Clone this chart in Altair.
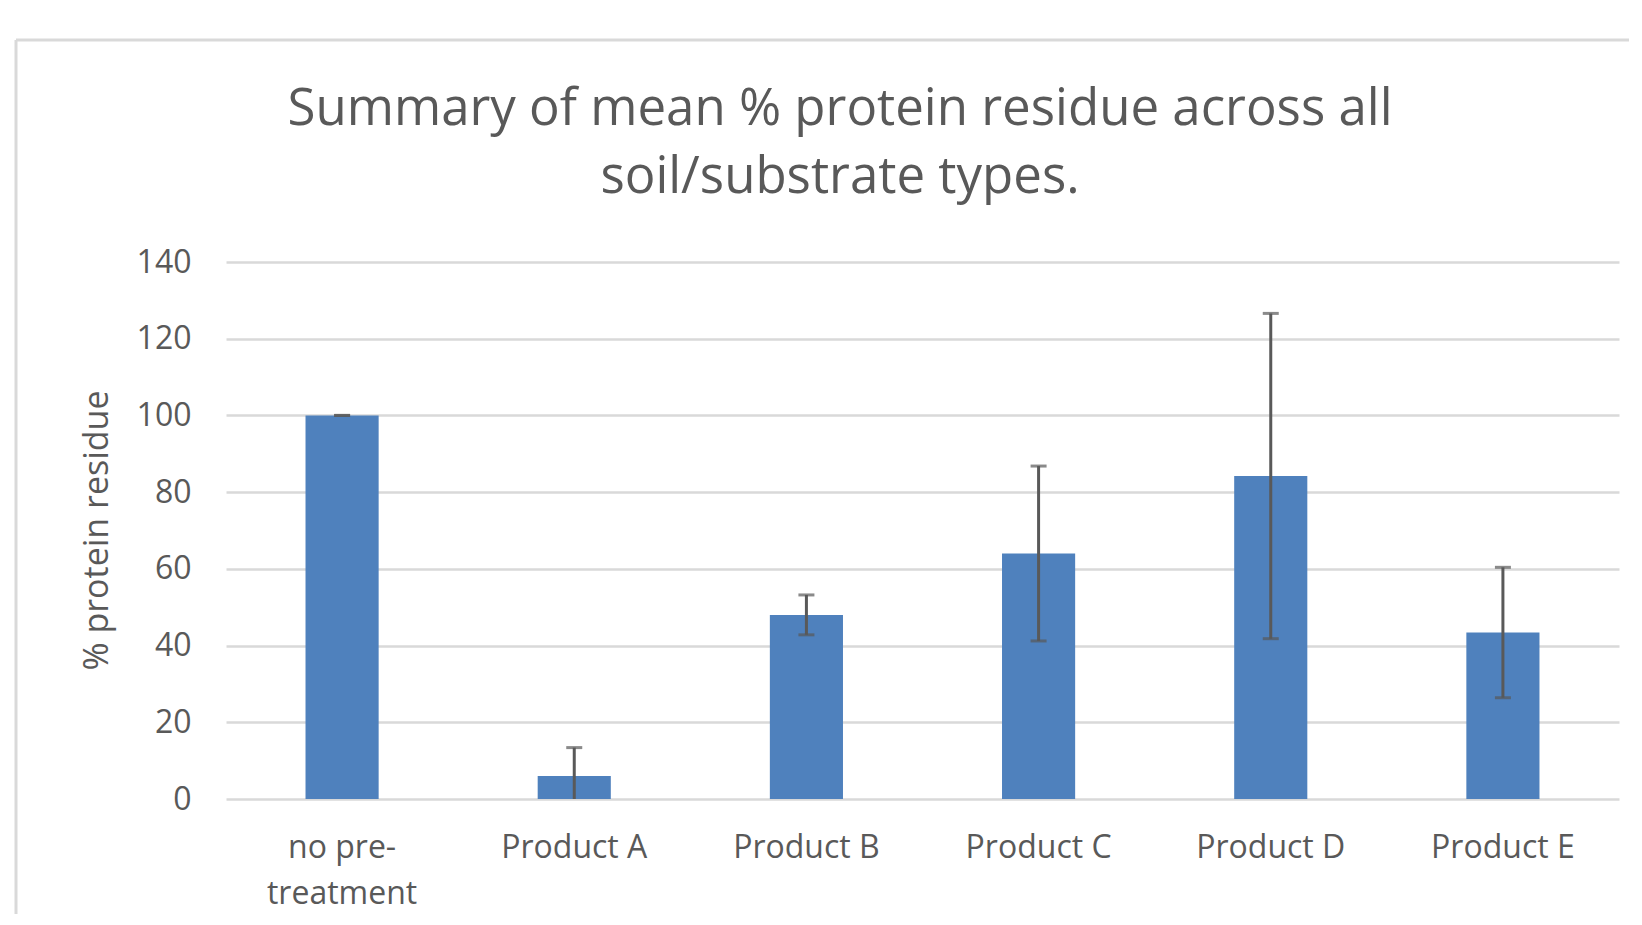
import altair as alt
import pandas as pd

categories = ["no pre-treatment", "Product A", "Product B", "Product C", "Product D", "Product E"]
means = [100.0, 6.0, 48.0, 64.0, 84.2, 43.4]
errors = [0.0, 7.4, 5.2, 22.8, 42.4, 17.0]
y_ticks = [0, 20, 40, 60, 80, 100, 120, 140]
title_lines = ["Summary of mean % protein residue across all", "soil/substrate types."]
y_title = "% protein residue"

df = pd.DataFrame({"cat": categories, "mean": means, "err": errors})
df["lo"] = df["mean"] - df["err"]
df["hi"] = df["mean"] + df["err"]

W, H = 1393, 537
TXT = "#595959"
GRID = "#d9d9d9"
FONT = "Open Sans"

x_enc = alt.X(
    "cat:N", sort=categories, title=None,
    scale=alt.Scale(paddingInner=0.685, paddingOuter=0.3425),
    axis=alt.Axis(
        labelExpr="datum.value == 'no pre-treatment' ? ['no pre-', 'treatment'] : datum.value",
        labelAngle=0, labelFont=FONT, labelFontSize=32, labelColor=TXT,
        labelPadding=33, labelLineHeight=46, labelBaseline="top",
        ticks=False, domain=False, grid=False,
    ),
)
y_axis = alt.Axis(
    values=y_ticks, grid=True, gridColor=GRID, gridWidth=2.5,
    domain=False, ticks=False,
    labelFont=FONT, labelFontSize=32, labelColor=TXT, labelPadding=35,
    titleFont=FONT, titleFontSize=34, titleColor=TXT, titleFontWeight=500,
    titleX=-129, titleY=268, titleAngle=270, titleAlign="center", titleBaseline="middle",
)
y_scale = alt.Scale(domain=[0, 140], nice=False)

base = alt.Chart(df)

bars = base.mark_bar(color="#4f81bd").encode(
    x=x_enc, y=alt.Y("mean:Q", scale=y_scale, axis=y_axis, title=y_title)
)
err_line = base.mark_rule(color="#595959", strokeWidth=3, clip=True).encode(
    x=x_enc, y=alt.Y("lo:Q", scale=y_scale, axis=y_axis, title=y_title), y2="hi:Q"
)
cap_hi = base.mark_tick(color="#595959", size=16, thickness=3, clip=True).encode(
    x=x_enc, y=alt.Y("hi:Q", scale=y_scale, axis=y_axis, title=y_title)
)
cap_lo = base.mark_tick(color="#595959", size=16, thickness=3, clip=True).encode(
    x=x_enc, y=alt.Y("lo:Q", scale=y_scale, axis=y_axis, title=y_title)
)

one = pd.DataFrame({"f": [0]})
frame_top = alt.Chart(one).mark_rule(color=GRID, strokeWidth=3).encode(
    x=alt.value(-210), x2=alt.value(W + 60), y=alt.value(-222)
)
frame_left = alt.Chart(one).mark_rule(color=GRID, strokeWidth=3).encode(
    x=alt.value(-210), y=alt.value(-222), y2=alt.value(H + 300)
)
title = alt.Chart(one).mark_text(
    text=title_lines, font=FONT, fontSize=51, color=TXT, align="center",
    baseline="alphabetic", lineHeight=68,
).encode(x=alt.value(614), y=alt.value(-137))

chart = alt.layer(frame_top, frame_left, title, bars, err_line, cap_hi, cap_lo).properties(
    width=W, height=H,
    autosize=alt.AutoSizeParams(type="none"),
    padding={"left": 218, "top": 254, "right": 10, "bottom": 115},
).configure(background="white").configure_view(stroke=None)

chart.save("out.html", embed_options={"renderer": "svg", "actions": False})
